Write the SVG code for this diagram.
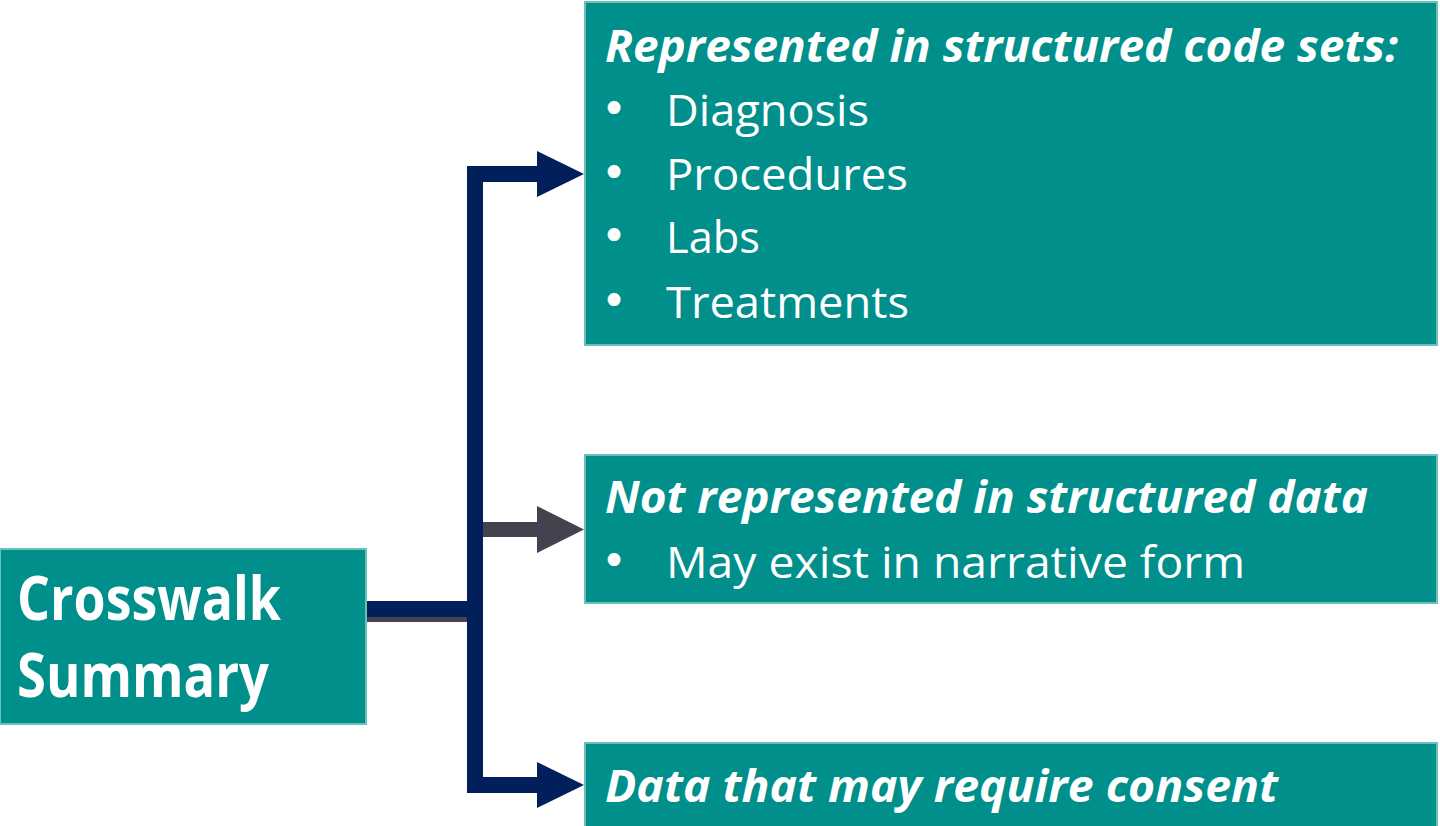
<svg xmlns="http://www.w3.org/2000/svg" width="1440" height="826" viewBox="0 0 1440 826">
<defs>
<style>
.box{fill:#008F8A;stroke:#6CC0BA;stroke-width:2}
.t{fill:#FFFFFF;font-family:"Open Sans","Liberation Sans",sans-serif;font-size:44px}
.h{font-weight:bold;font-style:italic}
.big{font-weight:bold;font-size:60px}
.b{font-family:"DejaVu Sans",sans-serif;font-size:44px}
.navy{fill:#001F5B}
.grey{fill:#45414F}
</style>
</defs>
<rect width="1440" height="826" fill="#FFFFFF"/>
<g id="connectors">
<rect class="grey" x="366" y="606" width="116" height="16"/>
<rect class="navy" x="366" y="601" width="116" height="16"/>
<rect class="grey" x="482" y="522" width="56" height="15"/>
<polygon class="grey" points="537,506 584,529.5 537,553"/>
<path class="navy" d="M467,166 H538 V182 H483 V777 H538 V793 H467 Z"/>
<polygon class="navy" points="537,151 584,174 537,197"/>
<polygon class="navy" points="537,762 584,785 537,808"/>
</g>
<g id="node-crosswalk">
<rect class="box" x="0" y="549" width="366" height="175"/>
<text class="t big" x="17" y="620" textLength="264" lengthAdjust="spacingAndGlyphs">Crosswalk</text>
<text class="t big" x="17" y="697" textLength="252" lengthAdjust="spacingAndGlyphs">Summary</text>
</g>
<g id="node-structured">
<rect class="box" x="585" y="2" width="852" height="343"/>
<text class="t h" x="605" y="62" textLength="793" lengthAdjust="spacingAndGlyphs">Represented in structured code sets:</text>
<text class="t b" x="601" y="124">•</text>
<text class="t" x="666" y="126" textLength="203" lengthAdjust="spacingAndGlyphs">Diagnosis</text>
<text class="t b" x="601" y="188">•</text>
<text class="t" x="666" y="190" textLength="242" lengthAdjust="spacingAndGlyphs">Procedures</text>
<text class="t b" x="601" y="251">•</text>
<text class="t" x="666" y="253" textLength="94" lengthAdjust="spacingAndGlyphs">Labs</text>
<text class="t b" x="601" y="316">•</text>
<text class="t" x="666" y="318" textLength="243" lengthAdjust="spacingAndGlyphs">Treatments</text>
</g>
<g id="node-unstructured">
<rect class="box" x="585" y="455" width="852" height="148"/>
<text class="t h" x="605" y="513" textLength="763" lengthAdjust="spacingAndGlyphs">Not represented in structured data</text>
<text class="t b" x="601" y="576">•</text>
<text class="t" x="666" y="578" textLength="579" lengthAdjust="spacingAndGlyphs">May exist in narrative form</text>
</g>
<g id="node-consent">
<rect class="box" x="585" y="743" width="852" height="90"/>
<text class="t h" x="605" y="802" textLength="673" lengthAdjust="spacingAndGlyphs">Data that may require consent</text>
</g>
</svg>
